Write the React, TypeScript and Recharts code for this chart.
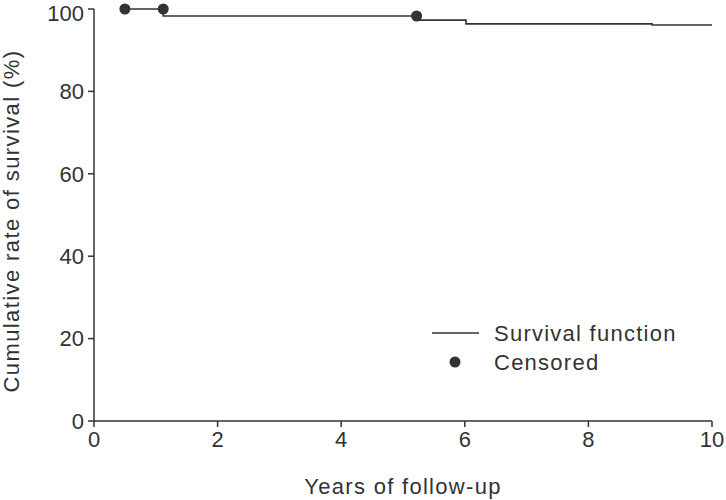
import { ComposedChart, Line, Scatter, XAxis, YAxis } from "recharts";

const years = [0.5, 1.12, 5.25, 6.02, 9.03, 10];
const survival = [100, 98.3, 97.3, 96.4, 96.1, 96.1];
const censoredYears = [0.5, 1.12, 5.22];
const censoredSurvival = [100, 100, 98.3];
const xTicks = [0, 2, 4, 6, 8, 10];
const yTicks = [0, 20, 40, 60, 80, 100];

const INK = "#333333";
const FONT = "'Liberation Sans', Arial, sans-serif";

const curve = years.map((t, i) => ({ t, s: survival[i] }));
const censored = censoredYears.map((t, i) => ({ t, s: censoredSurvival[i] }));

function YTitle({ viewBox }: { viewBox?: { x: number; y: number; width: number; height: number } }) {
  if (!viewBox) return null;
  const cx = 19;
  const cy = viewBox.y + viewBox.height / 2 + 6;
  return (
    <text
      x={cx}
      y={cy}
      transform={`rotate(-90 ${cx} ${cy})`}
      textAnchor="middle"
      fontSize={22}
      fontFamily={FONT}
      letterSpacing={1.4}
      fill={INK}
    >
      Cumulative rate of survival (%)
    </text>
  );
}

function XTitle({ viewBox }: { viewBox?: { x: number; y: number; width: number; height: number } }) {
  if (!viewBox) return null;
  return (
    <text
      x={viewBox.x + viewBox.width / 2}
      y={494}
      textAnchor="middle"
      fontSize={22}
      fontFamily={FONT}
      letterSpacing={1.3}
      fill={INK}
    >
      Years of follow-up
    </text>
  );
}

function KeyBox() {
  return (
    <svg width={280} height={60} style={{ display: "block" }}>
      <line x1={1} y1={15} x2={48} y2={15} stroke={INK} strokeWidth={1.6} />
      <text x={63} y={23} fontSize={22} fontFamily={FONT} letterSpacing={1.25} fill={INK}>
        Survival function
      </text>
      <circle cx={24} cy={44} r={5.5} fill={INK} />
      <text x={63} y={52} fontSize={22} fontFamily={FONT} letterSpacing={1.25} fill={INK}>
        Censored
      </text>
    </svg>
  );
}

export default function App() {
  const tickStyle = { fontSize: 22, fill: INK, fontFamily: FONT };
  return (
    <div style={{ position: "absolute", left: 0, top: 0, width: 726, height: 500, background: "#fff" }}>
      <ComposedChart width={726} height={500} margin={{ top: 9, right: 14, bottom: 0, left: 0 }}>
        <XAxis
          type="number"
          dataKey="t"
          domain={[0, 10]}
          ticks={xTicks}
          height={79}
          tick={tickStyle}
          tickSize={6}
          tickMargin={4}
          axisLine={{ stroke: INK, strokeWidth: 1.5 }}
          tickLine={{ stroke: INK, strokeWidth: 1.5 }}
          label={<XTitle />}
        />
        <YAxis
          type="number"
          dataKey="s"
          domain={[0, 100]}
          ticks={yTicks}
          width={94}
          tick={tickStyle}
          tickSize={6}
          tickMargin={4}
          axisLine={{ stroke: INK, strokeWidth: 1.5 }}
          tickLine={{ stroke: INK, strokeWidth: 1.5 }}
          label={<YTitle />}
        />
        <Line
          data={curve}
          dataKey="s"
          type="stepAfter"
          stroke={INK}
          strokeWidth={1.6}
          dot={false}
          activeDot={false}
          isAnimationActive={false}
          name="Survival function"
        />
        <Scatter
          data={censored}
          dataKey="s"
          fill={INK}
          isAnimationActive={false}
          name="Censored"
          shape={(props: any) => <circle cx={props.cx} cy={props.cy} r={5.5} fill={INK} />}
        />
      </ComposedChart>
      <div style={{ position: "absolute", left: 431, top: 318 }}>
        <KeyBox />
      </div>
    </div>
  );
}
